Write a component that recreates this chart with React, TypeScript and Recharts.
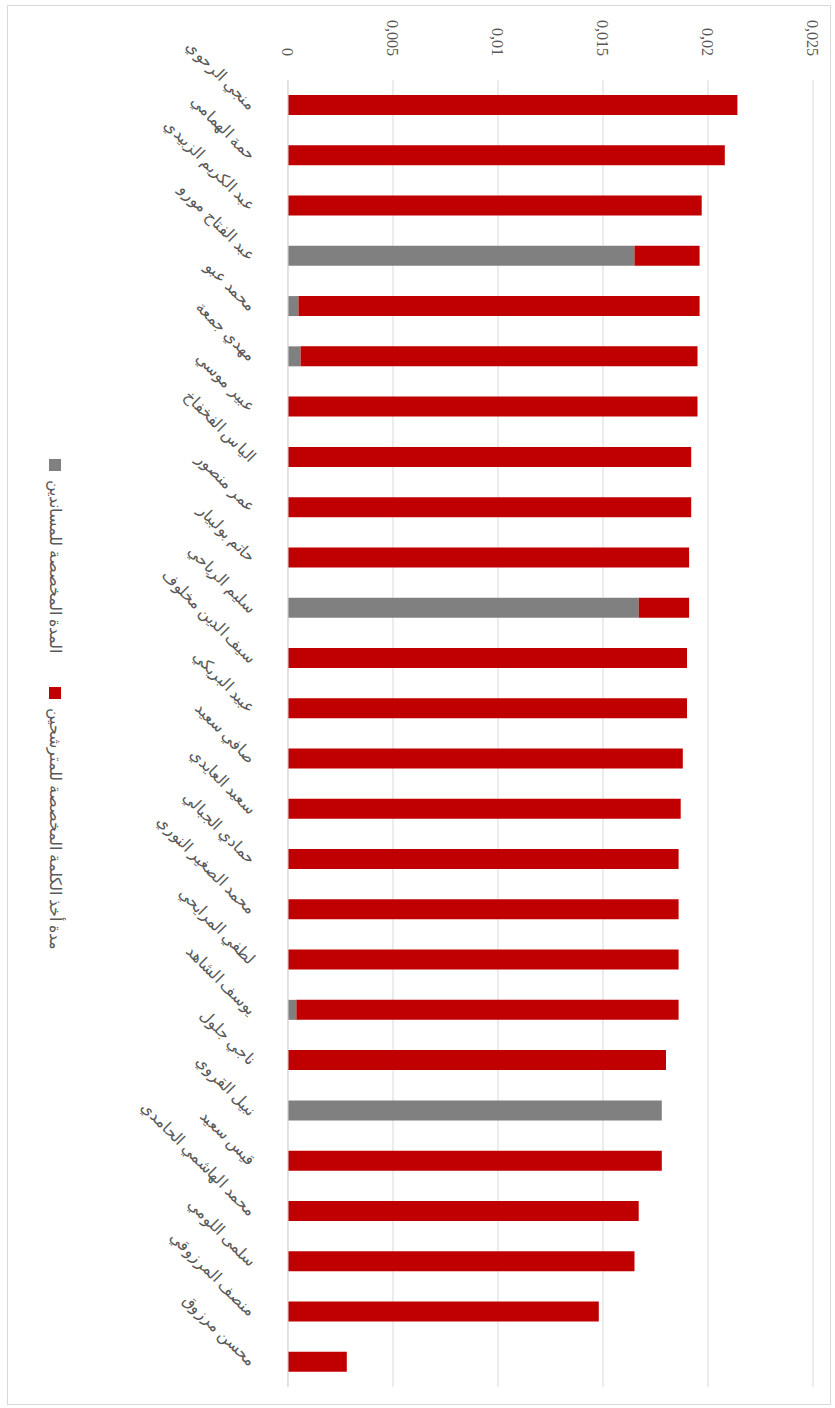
import { BarChart, Bar, XAxis, YAxis, CartesianGrid, Legend } from "recharts";

const candidates = [
  "منجي الرحوي",
  "حمة الهمامي",
  "عبد الكريم الزبيدي",
  "عبد الفتاح مورو",
  "محمد عبو",
  "مهدي جمعة",
  "عبير موسي",
  "الياس الفخفاخ",
  "عمر منصور",
  "حاتم بولبيار",
  "سليم الرياحي",
  "سيف الدين مخلوف",
  "عبيد البريكي",
  "صافي سعيد",
  "سعيد العايدي",
  "حمادي الجبالي",
  "محمد الصغير النوري",
  "لطفي المرايحي",
  "يوسف الشاهد",
  "ناجي جلول",
  "نبيل القروي",
  "قيس سعيد",
  "محمد الهاشمي الحامدي",
  "سلمى اللومي",
  "منصف المرزوقي",
  "محسن مرزوق",
];

// المدة المخصصة للمساندين
const supportersTime = [
  0, 0, 0, 0.0165, 0.0005, 0.0006, 0, 0, 0, 0, 0.0167, 0, 0, 0, 0, 0, 0, 0,
  0.0004, 0, 0.0178, 0, 0, 0, 0, 0,
];

// مدة أخذ الكلمة المخصصة للمترشحين
const candidatesTime = [
  0.0214, 0.0208, 0.0197, 0.0031, 0.0191, 0.0189, 0.0195, 0.0192, 0.0192,
  0.0191, 0.0024, 0.019, 0.019, 0.0188, 0.0187, 0.0186, 0.0186, 0.0186,
  0.0182, 0.018, 0, 0.0178, 0.0167, 0.0165, 0.0148, 0.0028,
];

const valueTicks = [0, 0.005, 0.01, 0.015, 0.02, 0.025];

const SUPPORTERS = "المدة المخصصة للمساندين";
const CANDIDATES = "مدة أخذ الكلمة المخصصة للمترشحين";

const data = candidates.map((name, i) => ({
  name,
  supporters: supportersTime[i],
  speakers: candidatesTime[i],
}));

const font = "'Liberation Serif', 'Times New Roman', serif";
const textColor = "#595959";

function CategoryTick({ x, y, payload }: any) {
  return (
    <g transform={`translate(${x + 2},${y + 27})`}>
      <text
        textAnchor="end"
        dy="0.35em"
        transform="rotate(-45)"
        fill={textColor}
        fontSize={16}
        fontFamily={font}
      >
        {payload.value}
      </text>
    </g>
  );
}

function LegendContent({ payload }: any) {
  return (
    <div
      style={{
        display: "flex",
        justifyContent: "center",
        alignItems: "center",
        fontFamily: font,
        fontSize: 16,
        color: textColor,
        gap: 34,
      }}
    >
      {(payload || []).map((p: any) => (
        <div key={p.value} style={{ display: "flex", alignItems: "center", gap: 9 }}>
          <span style={{ width: 12, height: 12, background: p.color, display: "inline-block" }} />
          <span>{p.value}</span>
        </div>
      ))}
    </div>
  );
}

export default function App() {
  return (
    <div
      style={{
        position: "absolute",
        left: 0,
        top: 0,
        width: 835,
        height: 1408,
        overflow: "hidden",
        background: "#fff",
      }}
    >
      <div
        style={{
          position: "absolute",
          left: 0,
          top: 0,
          width: 1408,
          height: 835,
          transformOrigin: "0 0",
          transform: "translate(835px, 0) rotate(90deg)",
        }}
      >
        <div
          style={{
            position: "absolute",
            left: 5,
            top: 4,
            width: 1398,
            height: 822,
            border: "1px solid #d9d9d9",
          }}
        />
        <BarChart
          width={1408}
          height={835}
          data={data}
          margin={{ top: 22, right: 21, bottom: 0, left: 0 }}
          barSize={20}
        >
          <CartesianGrid vertical={false} stroke="#d9d9d9" />
          <XAxis
            dataKey="name"
            interval={0}
            height={288}
            tickLine={false}
            axisLine={{ stroke: "#d9d9d9" }}
            tick={<CategoryTick />}
          />
          <YAxis
            width={80}
            domain={[0, 0.025]}
            ticks={valueTicks}
            axisLine={false}
            tickLine={false}
            tickMargin={18}
            tickFormatter={(v: number) => String(v).replace(".", ",")}
            tick={{ fill: textColor, fontSize: 16, fontFamily: font }}
          />
          <Legend
            verticalAlign="middle"
            layout="horizontal"
            wrapperStyle={{ top: 770, left: 0, width: 1408 }}
            content={<LegendContent />}
          />
          <Bar
            dataKey="supporters"
            name={SUPPORTERS}
            stackId="t"
            fill="#808080"
            isAnimationActive={false}
          />
          <Bar
            dataKey="speakers"
            name={CANDIDATES}
            stackId="t"
            fill="#c00000"
            isAnimationActive={false}
          />
        </BarChart>
      </div>
    </div>
  );
}
